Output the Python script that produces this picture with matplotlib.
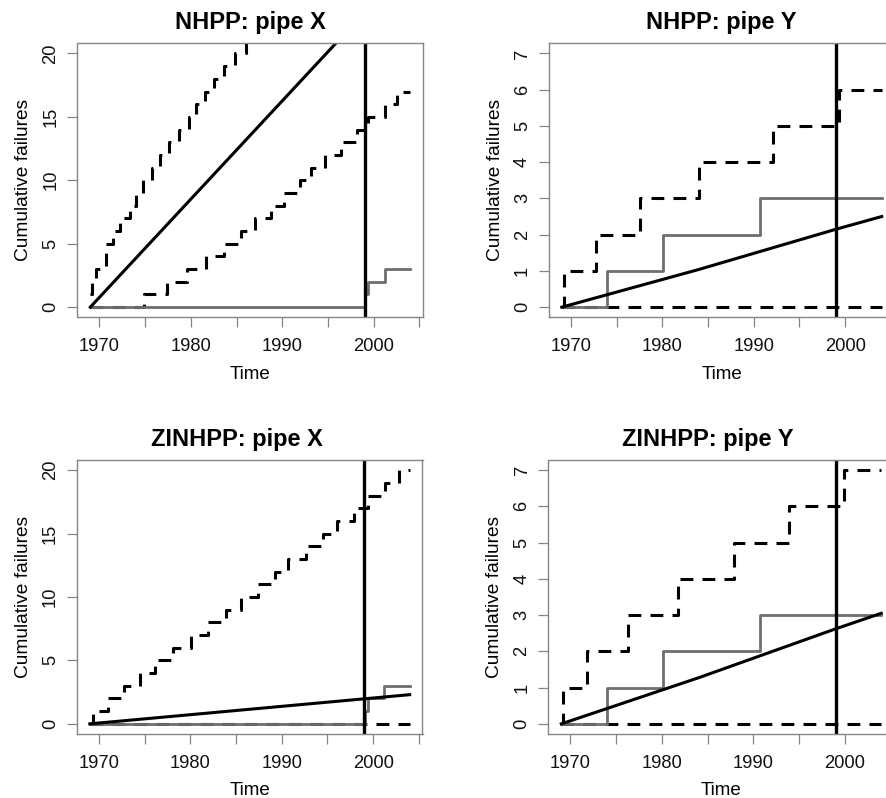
import matplotlib
matplotlib.use("Agg")
import matplotlib.pyplot as plt

plt.rcParams['font.family'] = ['Liberation Sans', 'DejaVu Sans']

# --- values ---
x_ticks = [1970, 1975, 1980, 1985, 1990, 1995, 2000, 2005]
x_tick_labels = ['1970', '', '1980', '', '1990', '', '2000', '']
y_ticks_pipe_x = [0, 5, 10, 15, 20]
y_ticks_pipe_y = [0, 1, 2, 3, 4, 5, 6, 7]
cutoff_year = 1999

titles = ['NHPP: pipe X', 'NHPP: pipe Y', 'ZINHPP: pipe X', 'ZINHPP: pipe Y']

# observed cumulative failures (grey steps)
obs_x_years = [1969, 1999.1, 1999.4, 2001.2, 2004]
obs_x_count = [0, 1, 2, 3, 3]
obs_y_years = [1969, 1974.0, 1980.1, 1990.7, 2004]
obs_y_count = [0, 1, 2, 3, 3]

# NHPP pipe X
nhpp_x_up_years = [1969, 1969.2, 1969.6, 1970.7, 1971.5, 1972.2, 1973.3, 1974.0,
                   1974.8, 1975.8, 1976.6, 1977.6, 1978.7, 1979.8, 1980.6, 1981.6,
                   1982.5, 1983.6, 1984.8, 1986.0]
nhpp_x_up_count = [1, 2, 3, 5, 6, 7, 8, 9, 10, 11, 12, 13, 14, 15, 16, 17,
                   18, 19, 20, 21]
nhpp_x_lo_years = [1969, 1974.9, 1977.4, 1979.6, 1981.7, 1983.6, 1985.5, 1987.0,
                   1988.8, 1990.2, 1991.9, 1993.2, 1994.7, 1996.4, 1998.2, 1999.4,
                   2001.2, 2002.6, 2004]
nhpp_x_lo_count = [0, 1, 2, 3, 4, 5, 6, 7, 8, 9, 10, 11, 12, 13, 14, 15, 16, 17, 17]
nhpp_x_fit_years = [1969, 2004]
nhpp_x_fit = [0, 27.1]

# NHPP pipe Y
nhpp_y_up_years = [1969, 1969.2, 1972.75, 1977.6, 1984.0, 1992.1, 1999.3, 2004]
nhpp_y_up_count = [0, 1, 2, 3, 4, 5, 6, 6]
nhpp_y_lo_years = [1969, 2004]
nhpp_y_lo_count = [0, 0]
nhpp_y_fit_years = [1969, 1984, 1999, 2004]
nhpp_y_fit = [0, 1.04, 2.15, 2.5]

# ZINHPP pipe X
zi_x_up_years = [1969, 1969.4, 1971.0, 1972.7, 1974.5, 1976.1, 1978.1, 1980.1,
                 1981.9, 1983.9, 1985.5, 1987.4, 1989.3, 1990.7, 1992.7, 1994.5,
                 1996.1, 1997.9, 1999.4, 2001.3, 2002.8, 2004]
zi_x_up_count = [0, 1, 2, 3, 4, 5, 6, 7, 8, 9, 10, 11, 12, 13, 14, 15, 16, 17,
                 18, 19, 20, 20]
zi_x_lo_years = [1969, 2004]
zi_x_lo_count = [0, 0]
zi_x_fit_years = [1969, 2004]
zi_x_fit = [0, 2.3]

# ZINHPP pipe Y
zi_y_up_years = [1969, 1969.2, 1971.85, 1976.3, 1981.8, 1987.9, 1993.95, 1999.9, 2004]
zi_y_up_count = [0, 1, 2, 3, 4, 5, 6, 7, 7]
zi_y_lo_years = [1969, 2004]
zi_y_lo_count = [0, 0]
zi_y_fit_years = [1969, 1984, 1999, 2004]
zi_y_fit = [0, 1.27, 2.62, 3.05]

W, H = 887, 798
fig = plt.figure(figsize=(W / 100, H / 100), dpi=100)

box_grey = '#858585'
ax_w, ax_h = 345.5, 274.0


def make_axes(left_px, top_px):
    return fig.add_axes([left_px / W, 1 - (top_px + ax_h) / H, ax_w / W, ax_h / H])


def draw(ax, up_t, up_v, lo_t, lo_v, obs_t, obs_v, fit_t, fit_v,
         ylim, yticks, title, title_x):
    dash = (0, (4.2, 3.0))
    ax.step(up_t, up_v, where='post', color='black', lw=2.2, linestyle=dash)
    ax.step(lo_t, lo_v, where='post', color='black', lw=2.2, linestyle=dash)
    ax.step(obs_t, obs_v, where='post', color='#6e6e6e', lw=2.0)
    ax.plot(fit_t, fit_v, color='black', lw=2.2)
    ax.axvline(cutoff_year, color='black', lw=2.4)

    ax.set_xlim(1967.6, 2005.4)
    ax.set_ylim(*ylim)
    ax.set_xticks(x_ticks)
    ax.set_xticklabels(x_tick_labels)
    ax.set_yticks(yticks)
    ax.set_yticklabels([str(v) for v in yticks])

    for s in ax.spines.values():
        s.set_color(box_grey)
        s.set_linewidth(1.0)
    ax.tick_params(axis='both', direction='out', length=7.5, width=0.9,
                   color=box_grey, labelsize=13.2, labelcolor='#111111')
    ax.tick_params(axis='x', pad=7.7)
    ax.tick_params(axis='y', pad=5.4, labelrotation=90)
    for t in ax.get_yticklabels():
        t.set_va('center')

    ax.set_title(title, fontsize=17, fontweight='bold', pad=10, x=title_x)
    ax.set_xlabel('Time', fontsize=13.5)
    ax.xaxis.set_label_coords(0.5, -0.177)
    ax.set_ylabel('Cumulative failures', fontsize=13.8)
    ax.yaxis.set_label_coords(-0.131, 0.5)


ax1 = make_axes(77.5, 43.3)
draw(ax1, nhpp_x_up_years, nhpp_x_up_count, nhpp_x_lo_years, nhpp_x_lo_count,
     obs_x_years, obs_x_count, nhpp_x_fit_years, nhpp_x_fit,
     (-0.8, 20.8), y_ticks_pipe_x, titles[0], 0.5)

ax2 = make_axes(549.0, 43.3)
draw(ax2, nhpp_y_up_years, nhpp_y_up_count, nhpp_y_lo_years, nhpp_y_lo_count,
     obs_y_years, obs_y_count, nhpp_y_fit_years, nhpp_y_fit,
     (-0.28, 7.28), y_ticks_pipe_y, titles[1], 0.5)

ax3 = make_axes(77.0, 460.0)
draw(ax3, zi_x_up_years, zi_x_up_count, zi_x_lo_years, zi_x_lo_count,
     obs_x_years, obs_x_count, zi_x_fit_years, zi_x_fit,
     (-0.8, 20.8), y_ticks_pipe_x, titles[2], 0.462)

ax4 = make_axes(548.5, 460.0)
draw(ax4, zi_y_up_years, zi_y_up_count, zi_y_lo_years, zi_y_lo_count,
     obs_y_years, obs_y_count, zi_y_fit_years, zi_y_fit,
     (-0.28, 7.28), y_ticks_pipe_y, titles[3], 0.462)

fig.savefig('out.png', dpi=100, facecolor='white')
